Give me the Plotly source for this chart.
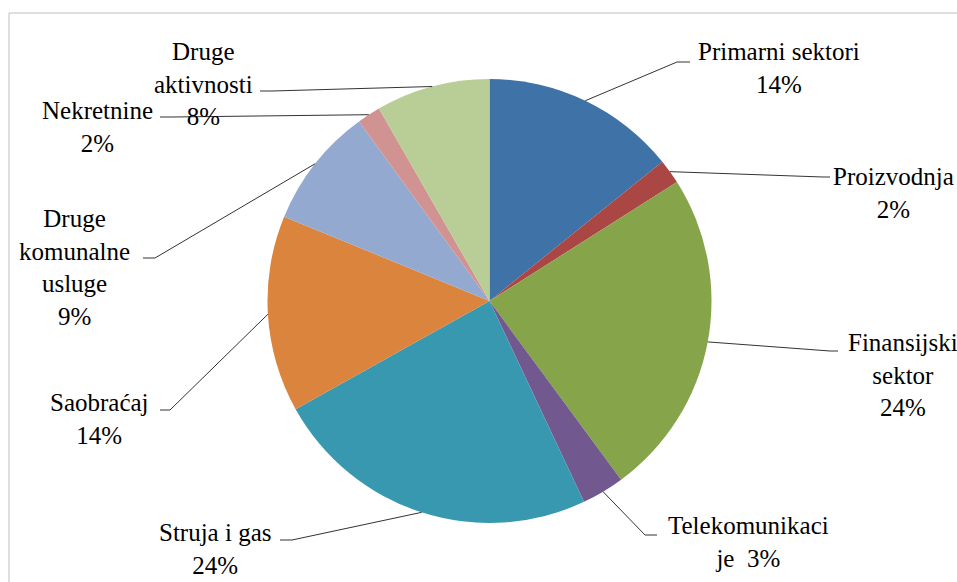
import math
import plotly.graph_objects as go

# ---- data ----
categories = ["Primarni sektori", "Proizvodnja", "Finansijski sektor", "Telekomunikacije",
              "Struja i gas", "Saobraćaj", "Druge komunalne usluge", "Nekretnine", "Druge aktivnosti"]
values = [14.2, 1.8, 23.9, 3.1, 23.9, 14.3, 8.8, 1.7, 8.3]
label_texts = ["Primarni sektori<br>14%", "Proizvodnja<br>2%", "Finansijski<br>sektor<br>24%",
               "Telekomunikaci<br>je\u00a0\u00a03%", "Struja i gas<br>24%", "Saobraćaj<br>14%",
               "Druge<br>komunalne<br>usluge<br>9%", "Nekretnine<br>2%", "Druge<br>aktivnosti<br>8%"]
colors = ["#3F72A6", "#AA4643", "#86A44A", "#71588F", "#3798B0", "#DB843D", "#93A9CF", "#D19392", "#B9CD96"]

# ---- layout (pixel positions of label blocks and leader-line elbows) ----
W, H = 957, 582
CX, CY, R = 489.5, 301, 222
label_centers = [(779, 68), (893, 193), (903, 375), (748, 542), (215, 549),
                 (99, 419), (74, 268), (97, 127), (203, 84)]
leader_elbows = [(677, 62), (823, 177), (830, 351), (645, 535), (292, 540),
                 (170, 410), (155, 258), (172, 117), (272, 91)]
leader_ends = [(690, 62), (830, 177), (838, 351), (657, 535), (280, 540),
               (160, 410), (143, 258), (160, 117), (260, 91)]

def px(x):
    return x / W

def py(y):
    return 1 - y / H

FONT = "Liberation Serif"

fig = go.Figure()
fig.add_trace(go.Pie(
    labels=categories, values=values, sort=False, direction="clockwise", rotation=0,
    textinfo="none", hoverinfo="label+percent", showlegend=False,
    marker=dict(colors=colors, line=dict(width=0)),
    domain=dict(x=[px(CX - R), px(CX + R)], y=[py(CY + R), py(CY - R)]),
))

shapes = []
# chart area border
shapes.append(dict(type="rect", xref="paper", yref="paper", x0=px(9), y0=py(13), x1=px(1000), y1=py(620),
                   line=dict(color="#BFBFBF", width=1), fillcolor="rgba(0,0,0,0)", layer="below"))

total = sum(values)
cum = 0
annotations = []
for i, v in enumerate(values):
    mid = (cum + v / 2) / total * 2 * math.pi
    cum += v
    ex = CX + R * math.sin(mid)
    ey = CY - R * math.cos(mid)
    (bx, by), (tx, ty) = leader_elbows[i], leader_ends[i]
    shapes.append(dict(type="path", xref="paper", yref="paper",
                       path=f"M {px(ex)},{py(ey)} L {px(bx)},{py(by)} L {px(tx)},{py(ty)}",
                       line=dict(color="#333333", width=1)))
    lx, ly = label_centers[i]
    annotations.append(dict(x=px(lx), y=py(ly), xref="paper", yref="paper", text=label_texts[i],
                            showarrow=False, xanchor="center", yanchor="middle", align="center",
                            font=dict(family=FONT, size=25, color="#000000")))

fig.update_layout(width=W, height=H, margin=dict(l=0, r=0, t=0, b=0),
                  paper_bgcolor="white", plot_bgcolor="white",
                  font=dict(family=FONT),
                  shapes=shapes, annotations=annotations)

fig.write_html("out.html", config={"displayModeBar": False},
               post_script="document.body.style.margin='0';document.body.style.overflow='hidden';"
                           "document.documentElement.style.overflow='hidden';")
